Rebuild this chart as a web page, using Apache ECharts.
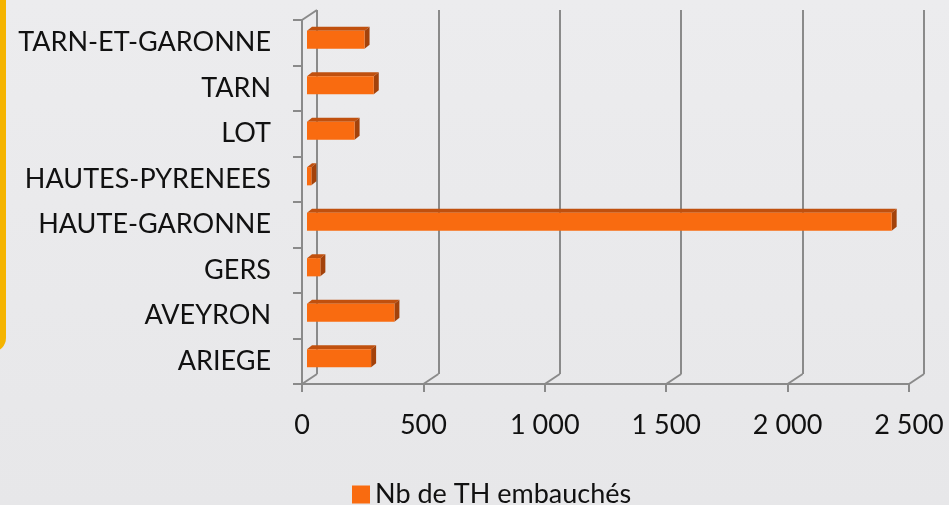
<!DOCTYPE html>
<html>
<head>
<meta charset="utf-8">
<script src="https://cdn.jsdelivr.net/npm/echarts@6/dist/echarts.min.js"></script>
<style>
  html, body { margin: 0; padding: 0; }
  #chart { width: 949px; height: 505px; }
</style>
</head>
<body>
<div id="chart"></div>
<script>
// départements, de bas en haut
const categories = ['ARIEGE', 'AVEYRON', 'GERS', 'HAUTE-GARONNE', 'HAUTES-PYRENEES', 'LOT', 'TARN', 'TARN-ET-GARONNE']
const embauches = [264, 360, 55, 2408, 18, 196, 275, 237]
const ticks = [0, 500, 1000, 1500, 2000, 2500]
const seriesName = 'Nb de TH embauchés'

const FONT = 'Lato'
const GRID_COLOR = '#8a8a8a'
const DX = 15, DY = 10 // profondeur du "mur" du fond

const chart = echarts.init(document.getElementById('chart'))

const fmt = v => String(v).replace(/\B(?=(\d{3})+(?!\d))/g, ' ')

const option = {
    backgroundColor: {
        type: 'linear', x: 0, y: 0, x2: 0, y2: 1,
        colorStops: [{ offset: 0, color: '#ececee' }, { offset: 1, color: '#e7e7e9' }]
    },
    textStyle: { fontFamily: FONT },
    graphic: [{
        type: 'rect',
        shape: { x: -30, y: -30, width: 36, height: 382, r: 14 },
        style: { fill: '#f5b400' },
        z: 0
    }],
    legend: {
        data: [seriesName],
        left: 347,
        top: 476,
        icon: 'rect',
        itemWidth: 18,
        itemHeight: 18,
        textStyle: { fontFamily: FONT, fontSize: 27, color: '#111' }
    },
    grid: [
        // plan avant : axes, barres
        { left: 302, top: 20, width: 607, height: 364 },
        // mur du fond : lignes de grille
        { left: 302 + DX, top: 20 - DY, width: 607, height: 364 }
    ],
    xAxis: [
        {
            gridIndex: 0, type: 'value',
            min: ticks[0], max: ticks[ticks.length - 1], interval: ticks[1] - ticks[0],
            axisLine: { show: true, lineStyle: { color: GRID_COLOR, width: 2 } },
            axisTick: { show: true, length: 8, lineStyle: { color: GRID_COLOR, width: 2 } },
            splitLine: { show: false },
            axisLabel: { margin: 28, fontFamily: FONT, fontSize: 27, color: '#111', formatter: fmt }
        },
        {
            gridIndex: 1, type: 'value',
            min: ticks[0], max: ticks[ticks.length - 1], interval: ticks[1] - ticks[0],
            axisLine: { show: false }, axisTick: { show: false }, axisLabel: { show: false },
            splitLine: { show: true, lineStyle: { color: GRID_COLOR, width: 2 } }
        }
    ],
    yAxis: [
        {
            gridIndex: 0, type: 'category', data: categories,
            axisLine: { show: true, lineStyle: { color: GRID_COLOR, width: 2 } },
            axisTick: { show: true, length: 9, lineStyle: { color: GRID_COLOR, width: 2 } },
            axisLabel: { margin: 31, fontFamily: FONT, fontSize: 27, color: '#111', padding: [4, 0, 0, 0] }
        },
        {
            gridIndex: 1, type: 'category', data: categories, show: false
        }
    ],
    series: [
        {
            // sol et arête haute du mur gauche
            type: 'custom',
            xAxisIndex: 0, yAxisIndex: 0,
            silent: true,
            data: ticks.map(t => [t, 0]),
            renderItem: (params, api) => {
                const p = api.coord([api.value(0), 0])
                const band = api.size([0, 1])[1]
                const bottom = p[1] + band / 2
                const children = [{
                    type: 'line',
                    shape: { x1: p[0], y1: bottom, x2: p[0] + DX, y2: bottom - DY },
                    style: { stroke: GRID_COLOR, lineWidth: 2 }
                }]
                if (params.dataIndex === 0) {
                    const top = bottom - band * categories.length
                    children.push({
                        type: 'line',
                        shape: { x1: p[0], y1: top, x2: p[0] + DX, y2: top - DY },
                        style: { stroke: GRID_COLOR, lineWidth: 2 }
                    })
                }
                return { type: 'group', children }
            },
            z: 1
        },
        {
            name: seriesName,
            type: 'custom',
            xAxisIndex: 0, yAxisIndex: 0,
            itemStyle: { color: '#f96b10' },
            data: embauches.map((v, i) => [v, i]),
            renderItem: (params, api) => {
                const start = api.coord([0, api.value(1)])
                const end = api.coord([api.value(0), api.value(1)])
                const band = api.size([0, 1])[1]
                const h = band * 0.4
                const d = 5, dy = 4
                const x0 = start[0] + 5, x1 = end[0] + 5
                const yc = end[1] - 3
                const yt = yc - h / 2, yb = yc + h / 2
                return {
                    type: 'group',
                    children: [
                        {
                            type: 'polygon',
                            shape: { points: [[x0, yt], [x0 + d, yt - dy], [x1 + d, yt - dy], [x1, yt]] },
                            style: { fill: '#c0500e' }
                        },
                        {
                            type: 'polygon',
                            shape: { points: [[x1, yt], [x1 + d, yt - dy], [x1 + d, yb - dy], [x1, yb]] },
                            style: { fill: '#a3420b' }
                        },
                        {
                            type: 'rect',
                            shape: { x: x0, y: yt, width: x1 - x0, height: h },
                            style: { fill: '#f96b10' }
                        }
                    ]
                }
            },
            z: 3
        }
    ]
}

chart.setOption(option)

window.addEventListener('resize', () => {
    chart.resize()
})
</script>
</body>
</html>
